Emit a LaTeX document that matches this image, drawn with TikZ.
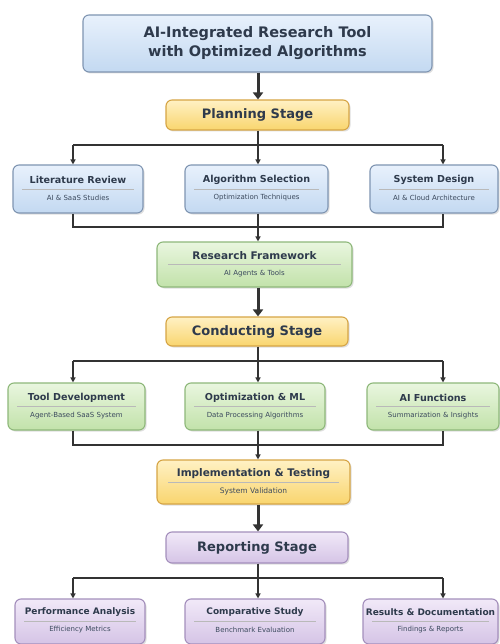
\documentclass[tikz,border=0pt]{standalone}
\usepackage{fontspec}
\setmainfont{DejaVu Sans}
\usetikzlibrary{shadows,arrows.meta}
\definecolor{txt}{HTML}{2E3A4C}
\definecolor{subtxt}{HTML}{3C4A5E}
\definecolor{conncol}{HTML}{333333}
\definecolor{bluetop}{HTML}{E8F1FC}
\definecolor{bluebot}{HTML}{C3D9F1}
\definecolor{blueline}{HTML}{7F95B2}
\definecolor{yeltop}{HTML}{FFF1C4}
\definecolor{yelbot}{HTML}{F9D56E}
\definecolor{yelline}{HTML}{D6A545}
\definecolor{grntop}{HTML}{E9F6DF}
\definecolor{grnbot}{HTML}{C2E2AA}
\definecolor{grnline}{HTML}{8EB87A}
\definecolor{purtop}{HTML}{F1E9F8}
\definecolor{purbot}{HTML}{D5C4E6}
\definecolor{purline}{HTML}{A48FBC}
\tikzset{
  box/.style={rounded corners=6pt, line width=1.1pt, inner sep=0pt,
    drop shadow={shadow xshift=1.5pt, shadow yshift=-1.5pt, opacity=0.25}},
  bluebox/.style={box, draw=blueline, top color=bluetop, bottom color=bluebot},
  yelbox/.style={box, draw=yelline, top color=yeltop, bottom color=yelbot},
  grnbox/.style={box, draw=grnline, top color=grntop, bottom color=grnbot},
  purbox/.style={box, draw=purline, top color=purtop, bottom color=purbot},
  ttl/.style={text=txt, font=\bfseries\fontsize{9.6}{11}\selectfont, inner sep=0pt},
  sub/.style={text=subtxt, font=\fontsize{7}{8}\selectfont, inner sep=0pt},
  stg/.style={text=txt, font=\bfseries\fontsize{13}{15}\selectfont, inner sep=0pt},
  sepline/.style={line width=0.5pt, draw=gray!55},
  conn/.style={draw=conncol, line width=1.4pt},
  arr/.style={conn, -{Triangle[length=5pt,width=5pt]}},
  bigarr/.style={draw=conncol, line width=3pt, -{Triangle[length=7pt,width=10pt]}},
}
\begin{document}
\begin{tikzpicture}[x=1pt,y=-1pt]
\useasboundingbox[fill=white] (0,0) rectangle (499,644);

% ---------- title ----------
\node[bluebox, minimum width=349pt, minimum height=57pt] (title) at (257.5,43.5) {};
\node[text=txt, font=\bfseries\fontsize{14.5}{19}\selectfont, align=center] (titletxt) at (title.center) {AI-Integrated Research Tool\\with Optimized Algorithms};

% ---------- planning ----------
\node[yelbox, minimum width=183pt, minimum height=30pt] (plan) at (257.5,115) {};
\node[stg] (plantxt) at (plan.center) {Planning Stage};

% ---------- row 1 ----------
\node[bluebox, minimum width=130pt, minimum height=48pt] (lr) at (78,189) {};
\node[bluebox, minimum width=143pt, minimum height=48pt] (as) at (256.5,189) {};
\node[bluebox, minimum width=128pt, minimum height=48pt] (sd) at (434,189) {};
\foreach \n/\t/\s in {lr/Literature Review/AI \& SaaS Studies,
                      as/Algorithm Selection/Optimization Techniques,
                      sd/System Design/AI \& Cloud Architecture}{
  \node[ttl] (\n t) at ([yshift=9pt]\n.center) {\t};
  \node[sub] (\n s) at ([yshift=-9pt]\n.center) {\s};
  \draw[sepline] ([xshift=10pt]\n.west) -- ([xshift=-10pt]\n.east);
}

% ---------- research framework ----------
\node[grnbox, minimum width=195pt, minimum height=45pt] (rf) at (254.5,264.5) {};
\node[ttl, font=\bfseries\fontsize{10.5}{12}\selectfont] (rft) at ([yshift=8.5pt]rf.center) {Research Framework};
\node[sub] (rfs) at ([yshift=-9pt]rf.center) {AI Agents \& Tools};
\draw[sepline] ([xshift=12pt]rf.west) -- ([xshift=-12pt]rf.east);

% ---------- conducting ----------
\node[yelbox, minimum width=182pt, minimum height=29pt] (cond) at (257,331.5) {};
\node[stg] (condtxt) at (cond.center) {Conducting Stage};

% ---------- row 2 ----------
\node[grnbox, minimum width=137pt, minimum height=47pt] (td) at (76.5,406.5) {};
\node[grnbox, minimum width=140pt, minimum height=47pt] (om) at (255,406.5) {};
\node[grnbox, minimum width=132pt, minimum height=47pt] (af) at (433,406.5) {};
\foreach \n/\t/\s in {td/Tool Development/Agent-Based SaaS System,
                      om/Optimization \& ML/Data Processing Algorithms,
                      af/AI Functions/Summarization \& Insights}{
  \node[ttl] (\n t) at ([yshift=9pt]\n.center) {\t};
  \node[sub] (\n s) at ([yshift=-9pt]\n.center) {\s};
  \draw[sepline] ([xshift=10pt]\n.west) -- ([xshift=-10pt]\n.east);
}

% ---------- implementation ----------
\node[yelbox, minimum width=193pt, minimum height=44pt] (impl) at (253.5,482) {};
\node[ttl, font=\bfseries\fontsize{10.5}{12}\selectfont] (implt) at ([yshift=8.5pt]impl.center) {Implementation \& Testing};
\node[sub, font=\fontsize{7.5}{9}\selectfont] (impls) at ([yshift=-9pt]impl.center) {System Validation};
\draw[sepline] ([xshift=12pt]impl.west) -- ([xshift=-12pt]impl.east);

% ---------- reporting ----------
\node[purbox, minimum width=182pt, minimum height=31pt] (rep) at (257,547.5) {};
\node[stg] (reptxt) at (rep.center) {Reporting Stage};

% ---------- row 3 ----------
\node[purbox, minimum width=130pt, minimum height=45pt] (pa) at (80,621.5) {};
\node[purbox, minimum width=140pt, minimum height=45pt] (cs) at (255,621.5) {};
\node[purbox, minimum width=135pt, minimum height=45pt] (rd) at (430.5,621.5) {};
\foreach \n/\t/\s in {pa/Performance Analysis/Efficiency Metrics,
                      cs/Comparative Study/Benchmark Evaluation,
                      rd/Results \& Documentation/Findings \& Reports}{
  \node[ttl, font=\bfseries\fontsize{9}{10}\selectfont] (\n t) at ([yshift=9pt]\n.center) {\t};
  \node[sub] (\n s) at ([yshift=-8pt]\n.center) {\s};
  \draw[sepline] ([xshift=10pt]\n.west) -- ([xshift=-10pt]\n.east);
}

% ---------- connectors ----------
\coordinate (xl) at (73,0);
\coordinate (xm) at (258,0);
\coordinate (xr) at (443,0);

\draw[bigarr] (title.south -| xm) -- (plan.north -| xm);
\coordinate (j1) at (258,145);
\draw[conn] (plan.south -| xm) -- (j1);
\draw[conn] (j1 -| xl) -- (j1 -| xr);
\draw[arr] (j1 -| xl) -- (lr.north -| xl);
\draw[arr] (j1) -- (as.north -| xm);
\draw[arr] (j1 -| xr) -- (sd.north -| xr);

\coordinate (m1) at (258,227);
\draw[conn] (lr.south -| xl) -- (m1 -| xl) -- (m1 -| xr) -- (sd.south -| xr);
\draw[conn] (as.south -| xm) -- (m1);
\draw[arr] (m1) -- (rf.north -| xm);

\draw[bigarr] (rf.south -| xm) -- (cond.north -| xm);
\coordinate (j2) at (258,361);
\draw[conn] (cond.south -| xm) -- (j2);
\draw[conn] (j2 -| xl) -- (j2 -| xr);
\draw[arr] (j2 -| xl) -- (td.north -| xl);
\draw[arr] (j2) -- (om.north -| xm);
\draw[arr] (j2 -| xr) -- (af.north -| xr);

\coordinate (m2) at (258,445);
\draw[conn] (td.south -| xl) -- (m2 -| xl) -- (m2 -| xr) -- (af.south -| xr);
\draw[conn] (om.south -| xm) -- (m2);
\draw[arr] (m2) -- (impl.north -| xm);

\draw[bigarr] (impl.south -| xm) -- (rep.north -| xm);
\coordinate (j3) at (258,578);
\draw[conn] (rep.south -| xm) -- (j3);
\draw[conn] (j3 -| xl) -- (j3 -| xr);
\draw[arr] (j3 -| xl) -- (pa.north -| xl);
\draw[arr] (j3) -- (cs.north -| xm);
\draw[arr] (j3 -| xr) -- (rd.north -| xr);
\end{tikzpicture}
\end{document}
